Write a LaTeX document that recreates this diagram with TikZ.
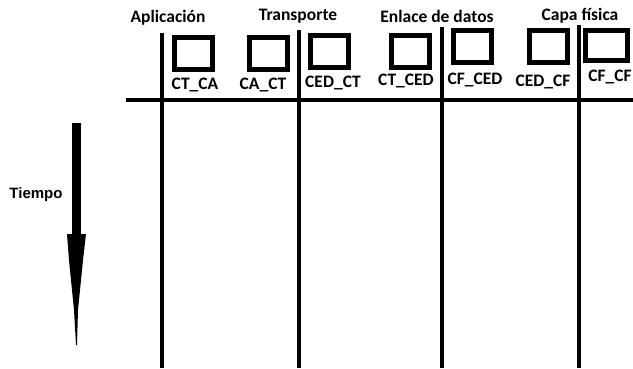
\documentclass[tikz,border=0pt]{standalone}
\usepackage{fontspec}
\newfontfamily\carlitofont{Carlito}
\newfontfamily\arialfont{Liberation Sans}
\begin{document}
\begin{tikzpicture}[x=1pt,y=-1pt,
  cbox/.style={draw,line width=5pt,inner sep=0,minimum width=38pt,minimum height=32pt},
  lbl/.style={font=\carlitofont\bfseries\fontsize{17.5}{18}\selectfont,inner sep=0},
  hdr/.style={font=\carlitofont\bfseries\fontsize{17.5}{18}\selectfont,inner sep=0},
  life/.style={line width=4pt}]
\useasboundingbox (0,0) rectangle (633,368);
% headers
\node[hdr] (h1) at (168,18) {Aplicación};
\node[hdr] (h2) at (298,16) {Transporte};
\node[hdr] (h3) at (437,16) {Enlace de datos};
\node[hdr] (h4) at (580,16) {Capa física};
% boxes
\node[cbox] (b1) at (193.5,53.5) {};
\node[cbox] (b2) at (268,53) {};
\node[cbox] (b3) at (329.5,51) {};
\node[cbox] (b4) at (410,51) {};
\node[cbox] (b5) at (472,46.5) {};
\node[cbox] (b6) at (548,46.5) {};
\node[cbox,minimum width=42pt,minimum height=30pt] (b7) at (606.5,45.5) {};
% labels
\node[lbl] (l1) at (195,85) {CT\_CA};
\node[lbl] (l2) at (263,85) {CA\_CT};
\node[lbl] (l3) at (333,83) {CED\_CT};
\node[lbl] (l4) at (406,81) {CT\_CED};
\node[lbl] (l5) at (475,80) {CF\_CED};
\node[lbl] (l6) at (543,82) {CED\_CF};
\node[lbl] (l7) at (610,77) {CF\_CF};
% lifelines
\coordinate (v1t) at (162,33); \coordinate (v1b) at (162,368);
\coordinate (v2t) at (299,30); \coordinate (v2b) at (299,368);
\coordinate (v3t) at (442,27); \coordinate (v3b) at (442,368);
\coordinate (v4t) at (579,25); \coordinate (v4b) at (579,368);
\coordinate (hl) at (126,100); \coordinate (hr) at (633,100);
\draw[life] (v1t) -- (v1b);
\draw[life] (v2t) -- (v2b);
\draw[life] (v3t) -- (v3b);
\draw[life] (v4t) -- (v4b);
\draw[life] (hl) -- (hr);
% time arrow
\node[font=\arialfont\bfseries\fontsize{15}{16}\selectfont,inner sep=0] (t) at (36,195) {Tiempo};
\fill (72,123) rectangle (81,236);
\fill (67,234) -- (86,234) -- (83,260) -- (78,310) -- (77,345) -- (76,345) -- (74,310) -- (69,260) -- cycle;
\end{tikzpicture}
\end{document}
